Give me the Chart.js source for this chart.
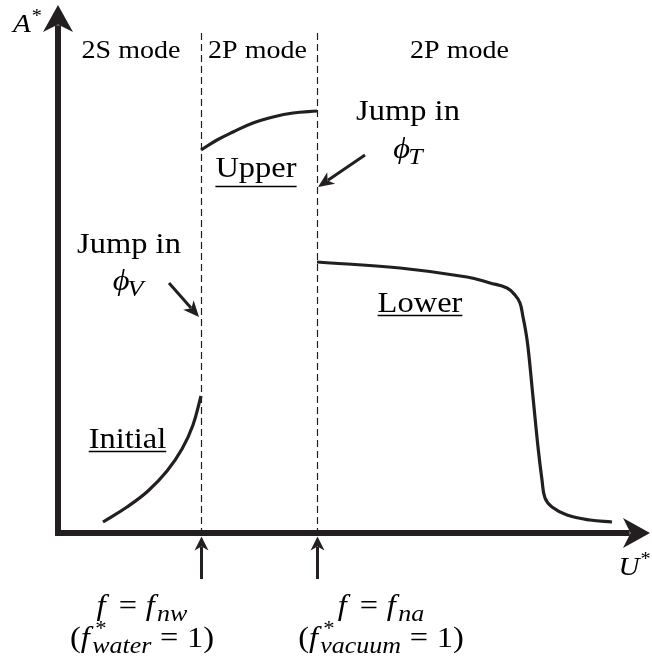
<!DOCTYPE html>
<html>
<head>
<meta charset="utf-8">
<script src="https://cdn.jsdelivr.net/npm/chart.js@4.4.0/dist/chart.umd.min.js"></script>
<style>
  html, body { margin: 0; padding: 0; background: #fff; }
  #wrap { width: 652px; height: 658px; }
</style>
</head>
<body>
<div id="wrap"><canvas id="chart" width="652" height="658"></canvas></div>
<script>
// Response branches: U* along x, A* along y (arbitrary units)
const initialU = [4.5, 6.9, 9.0, 10.9, 12.4, 13.5, 14.3];
const initialA = [1.1, 2.6, 4.2, 6.2, 8.4, 10.8, 13.7];

const upperU = [14.3, 15.9, 17.5, 19.5, 21.5, 23.5, 25.9];
const upperA = [38.3, 39.3, 40.1, 41.0, 41.6, 42.0, 42.2];

const lowerU = [25.9, 34.2, 40.9, 43.2, 44.9, 45.7, 46.2, 46.5, 46.75, 47.0, 47.5, 48.0, 48.4, 48.7, 49.4, 50.9, 53.2, 55.4];
const lowerA = [27.1, 26.5, 25.6, 25.0, 24.5, 23.8, 23.0, 21.6, 20.3, 18.6, 13.6, 8.6, 5.3, 3.5, 2.6, 1.8, 1.3, 1.1];

// natural frequencies in water / in vacuum
const freqMarks = [14.3, 25.9];

const INK = '#231f20';
const SERIF = '"Liberation Serif", "DejaVu Serif", serif';
const STRETCH = 1.12; // widen Times glyphs a little
const SUP = 0.7, SUB = 0.8;

const toPoints = (xs, ys) => xs.map((x, i) => ({ x: x, y: ys[i] }));

function branch(xs, ys) {
  return {
    data: toPoints(xs, ys),
    borderColor: INK,
    borderWidth: 3.2,
    pointRadius: 0,
    fill: false,
    tension: 0.4,
  };
}

// math italic f with a bit of italic correction
const mf = (sub, sup) => ({ t: 'f', it: true, ic: 0.15, sub: sub, sup: sup });
const eq = { t: '=', pad: 0.3 };

// text blocks placed in data units
const notes = [
  { segs: [{ t: '2S mode' }], u: 7.3, a: 47.5, size: 25 },
  { segs: [{ t: '2P mode' }], u: 19.95, a: 47.5, size: 25 },
  { segs: [{ t: '2P mode' }], u: 40.15, a: 47.5, size: 25 },
  { segs: [{ t: 'Jump in' }], u: 35.0, a: 41.3, size: 29 },
  { segs: [{ t: 'ϕ', it: true, sub: 'T' }], u: 35.0, a: 37.5, size: 29 },
  { segs: [{ t: 'Upper' }], u: 19.8, a: 35.6, size: 29, line: true },
  { segs: [{ t: 'Jump in' }], u: 7.1, a: 28.0, size: 29 },
  { segs: [{ t: 'ϕ', it: true, sub: 'V' }], u: 7.0, a: 24.3, size: 29 },
  { segs: [{ t: 'Lower' }], u: 36.2, a: 22.15, size: 29, line: true },
  { segs: [{ t: 'Initial' }], u: 6.95, a: 8.5, size: 29, line: true },
  { segs: [{ t: 'A', it: true, sup: '*' }], u: -3.1, a: 50.1, size: 26 },
  { segs: [{ t: 'U', it: true, sup: '*' }], u: 57.6, a: -4.2, size: 26 },
  { segs: [mf(), eq, mf('nw')], u: 8.4, a: -8.2, size: 29 },
  { segs: [{ t: '(' }, mf('water', '*'), eq, { t: '1)' }], u: 8.4, a: -11.4, size: 29 },
  { segs: [mf(), eq, mf('na')], u: 32.3, a: -8.2, size: 29 },
  { segs: [{ t: '(' }, mf('vacuum', '*'), eq, { t: '1)' }], u: 32.3, a: -11.4, size: 29 },
];

// pointer arrows: [fromU, fromA, toU, toA]
const pointers = [
  [30.7, 37.8, 26.0, 34.6],
  [11.1, 25.0, 14.1, 21.6],
];

function font(size, it) {
  return (it ? 'italic ' : '') + size + 'px ' + SERIF;
}

function textW(ctx, t, size, it) {
  ctx.font = font(size, it);
  return ctx.measureText(t).width * STRETCH;
}

function segLayout(ctx, s, size) {
  const pad = (s.pad || 0) * size;
  const w = textW(ctx, s.t, size, s.it) + (s.ic || 0) * size;
  let extra = 0;
  if (s.sup) extra = Math.max(extra, textW(ctx, s.sup, size * SUP, false));
  if (s.sub) extra = Math.max(extra, textW(ctx, s.sub, size * SUB, true) - 2);
  return { pad: pad, w: w, total: pad * 2 + w + extra };
}

function put(ctx, t, x, y, size, it) {
  ctx.font = font(size, it);
  ctx.save();
  ctx.translate(x, y);
  ctx.scale(STRETCH, 1);
  ctx.fillText(t, 0, 0);
  ctx.restore();
  return ctx.measureText(t);
}

function drawRich(ctx, segs, cx, by, size, underline) {
  const lay = segs.map(s => segLayout(ctx, s, size));
  const total = lay.reduce((acc, l) => acc + l.total, 0);
  let x = cx - total / 2;
  let desc = 0;
  ctx.fillStyle = '#000';
  ctx.textBaseline = 'alphabetic';
  ctx.textAlign = 'left';
  segs.forEach((s, i) => {
    const l = lay[i];
    const m = put(ctx, s.t, x + l.pad, by, size, s.it);
    desc = Math.max(desc, m.actualBoundingBoxDescent);
    const gx = x + l.pad + l.w;
    if (s.sup) put(ctx, s.sup, gx + 1, by - size * 0.4, size * SUP, false);
    if (s.sub) put(ctx, s.sub, gx - 2, by + size * 0.2, size * SUB, true);
    x += l.total;
  });
  if (underline) {
    const uy = Math.round(by + desc + 3) + 0.5;
    ctx.strokeStyle = '#000';
    ctx.lineWidth = 1.3;
    ctx.beginPath();
    ctx.moveTo(cx - total / 2, uy);
    ctx.lineTo(cx + total / 2, uy);
    ctx.stroke();
  }
}

// stealth style arrow head with a notched back
function head(ctx, x, y, ang, len, half) {
  const dx = Math.cos(ang), dy = Math.sin(ang);
  const nx = -dy, ny = dx;
  ctx.beginPath();
  ctx.moveTo(x, y);
  ctx.lineTo(x - len * dx + half * nx, y - len * dy + half * ny);
  ctx.lineTo(x - 0.72 * len * dx, y - 0.72 * len * dy);
  ctx.lineTo(x - len * dx - half * nx, y - len * dy - half * ny);
  ctx.closePath();
  ctx.fill();
}

function arrow(ctx, x0, y0, x1, y1, width, len, half) {
  const ang = Math.atan2(y1 - y0, x1 - x0);
  ctx.lineWidth = width;
  ctx.lineCap = 'butt';
  ctx.beginPath();
  ctx.moveTo(x0, y0);
  ctx.lineTo(x1 - 0.75 * len * Math.cos(ang), y1 - 0.75 * len * Math.sin(ang));
  ctx.stroke();
  head(ctx, x1, y1, ang, len, half);
}

const sketch = {
  id: 'sketch',
  beforeDatasetsDraw(chart) {
    const { ctx, scales: { x, y } } = chart;
    ctx.save();
    ctx.strokeStyle = INK;
    ctx.lineWidth = 1.2;
    ctx.setLineDash([7, 4]);
    freqMarks.forEach(f => {
      const px = Math.round(x.getPixelForValue(f)) + 0.5;
      ctx.beginPath();
      ctx.moveTo(px, y.getPixelForValue(50.0));
      ctx.lineTo(px, y.getPixelForValue(0));
      ctx.stroke();
    });
    ctx.restore();
  },
  afterDatasetsDraw(chart) {
    const { ctx, scales: { x, y } } = chart;
    ctx.save();
    ctx.strokeStyle = INK;
    ctx.fillStyle = INK;

    // axes
    const ox = x.getPixelForValue(0), oy = y.getPixelForValue(0);
    arrow(ctx, ox, y.getPixelForValue(-0.3), ox, y.getPixelForValue(52.8), 6, 27, 15);
    arrow(ctx, x.getPixelForValue(-0.3), oy, x.getPixelForValue(59.2), oy, 6, 27, 15);

    // markers under the U* axis
    freqMarks.forEach(f => {
      const px = x.getPixelForValue(f) + 0.5;
      arrow(ctx, px, y.getPixelForValue(-4.6), px, y.getPixelForValue(-0.35), 3, 14, 7);
    });

    // jump pointers
    pointers.forEach(p => {
      arrow(ctx, x.getPixelForValue(p[0]), y.getPixelForValue(p[1]),
        x.getPixelForValue(p[2]), y.getPixelForValue(p[3]), 3, 16, 7);
    });

    notes.forEach(n => {
      drawRich(ctx, n.segs, x.getPixelForValue(n.u), y.getPixelForValue(n.a), n.size, n.line);
    });
    ctx.restore();
  }
};

new Chart(document.getElementById('chart'), {
  type: 'line',
  data: {
    datasets: [
      branch(initialU, initialA),
      branch(upperU, upperA),
      branch(lowerU, lowerA),
    ],
  },
  options: {
    responsive: false,
    animation: false,
    devicePixelRatio: 1,
    layout: { padding: 0 },
    plugins: { legend: { display: false }, tooltip: { enabled: false } },
    scales: {
      x: { type: 'linear', min: -5.8, max: 59.4, display: false },
      y: { type: 'linear', min: -12.5, max: 53.3, display: false },
    },
  },
  plugins: [sketch],
});
</script>
</body>
</html>
